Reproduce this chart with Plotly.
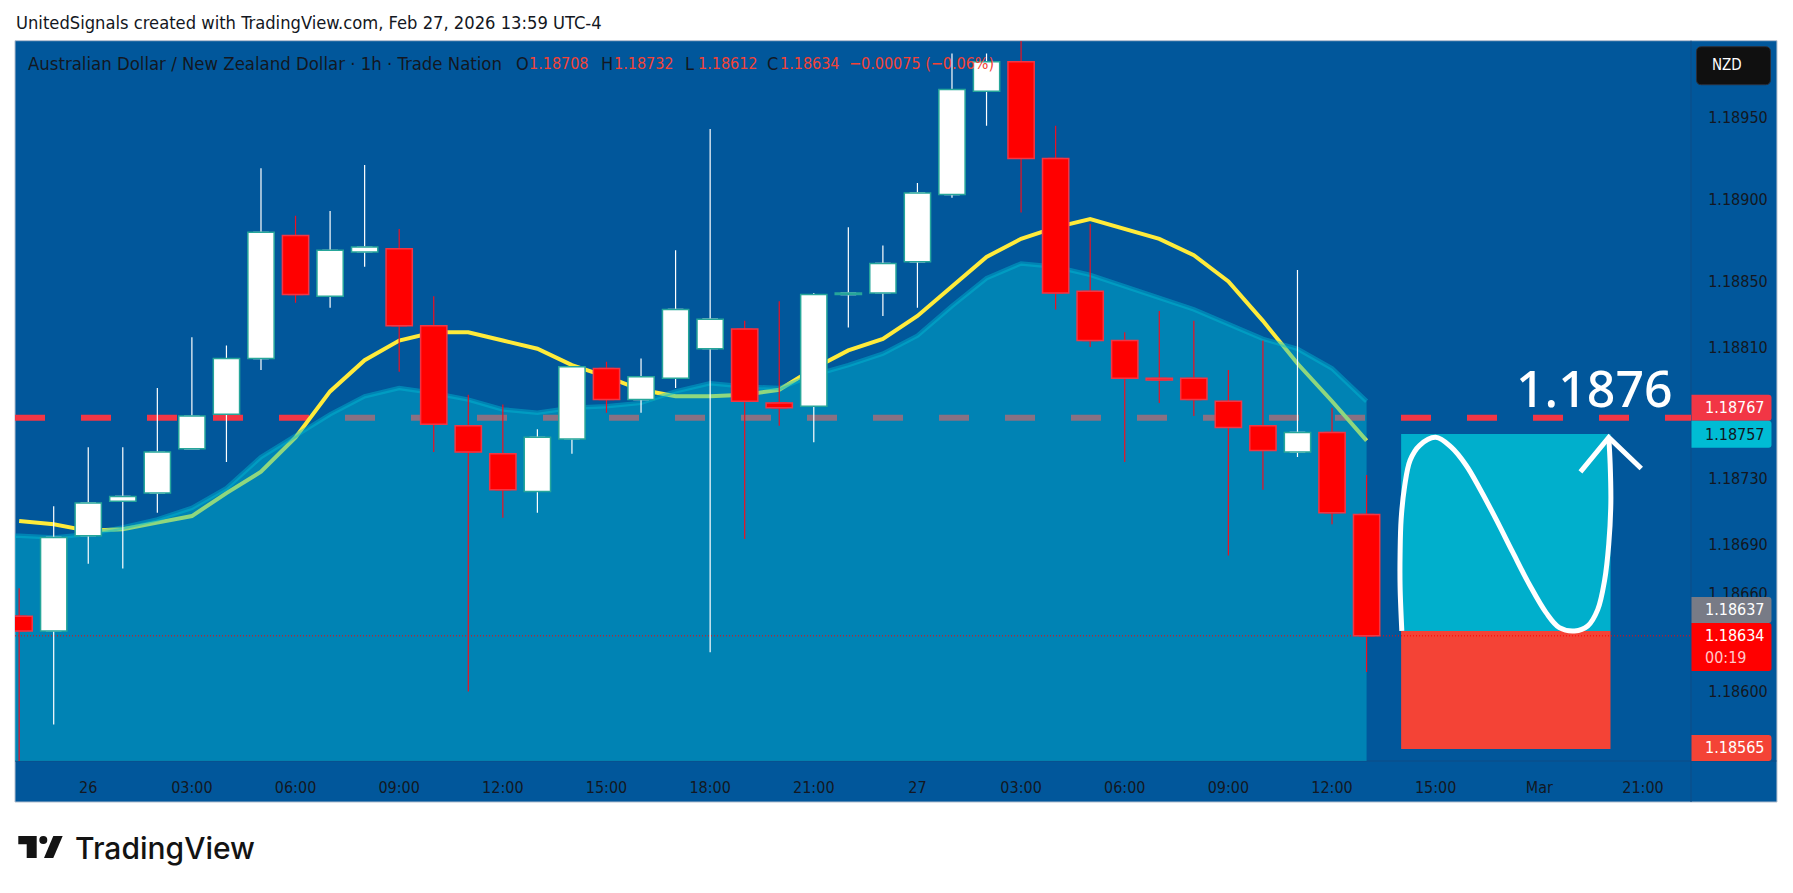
import plotly.graph_objects as go

W = 1793
H = 893
ML = 15
MR = 101.5
MT = 41.3
MB = 132

BG = "#01579B"
TEXT = "#131722"
FONT = "DejaVu Sans Condensed, Noto Sans"

bars = list(range(40))
opens = [1.18646, 1.18637, 1.18695, 1.18716, 1.18721, 1.18748, 1.18769, 1.18803, 1.18878, 1.18841,
         1.18868, 1.18870, 1.18823, 1.18762, 1.18745, 1.18722, 1.18754, 1.18797, 1.18778, 1.18791,
         1.18809, 1.18821, 1.18776, 1.18774, 1.18842, 1.18843, 1.18862, 1.18903, 1.18966, 1.18984,
         1.18925, 1.18844, 1.18814, 1.18791, 1.18791, 1.18777, 1.18762, 1.18746, 1.18758, 1.18708]
highs = [1.18663, 1.18713, 1.18749, 1.18749, 1.18785, 1.18816, 1.18811, 1.18919, 1.18890, 1.18893,
         1.18921, 1.18882, 1.18841, 1.18781, 1.18775, 1.18760, 1.18798, 1.18801, 1.18803, 1.18869,
         1.18943, 1.18826, 1.18838, 1.18843, 1.18883, 1.18872, 1.18910, 1.18989, 1.18989, 1.18997,
         1.18945, 1.18885, 1.18819, 1.18832, 1.18826, 1.18796, 1.18814, 1.18857, 1.18773, 1.18732]
lows = [1.18555, 1.18580, 1.18678, 1.18675, 1.18709, 1.18748, 1.18740, 1.18796, 1.18837, 1.18834,
        1.18859, 1.18795, 1.18746, 1.18600, 1.18706, 1.18709, 1.18745, 1.18770, 1.18770, 1.18785,
        1.18624, 1.18693, 1.18762, 1.18752, 1.18822, 1.18829, 1.18834, 1.18901, 1.18945, 1.18892,
        1.18833, 1.18810, 1.18740, 1.18776, 1.18768, 1.18683, 1.18723, 1.18743, 1.18702, 1.18612]
closes = [1.18637, 1.18694, 1.18715, 1.18719, 1.18746, 1.18768, 1.18803, 1.18880, 1.18842, 1.18869,
          1.18871, 1.18823, 1.18763, 1.18746, 1.18723, 1.18755, 1.18798, 1.18778, 1.18792, 1.18833,
          1.18827, 1.18777, 1.18773, 1.18842, 1.18843, 1.18861, 1.18904, 1.18967, 1.18984, 1.18925,
          1.18843, 1.18814, 1.18791, 1.18790, 1.18778, 1.18761, 1.18747, 1.18758, 1.18709, 1.18634]

ema = [1.18704, 1.18702, 1.18698, 1.18699, 1.18703, 1.18707, 1.18721, 1.18734, 1.18755, 1.18783,
       1.18802, 1.18814, 1.18819, 1.18819, 1.18814, 1.18809, 1.18799, 1.18792, 1.18784, 1.18780,
       1.18780, 1.18781, 1.18784, 1.18797, 1.18808, 1.18815, 1.18829, 1.18847, 1.18865, 1.18876,
       1.18883, 1.18888, 1.18882, 1.18876, 1.18866, 1.18850, 1.18826, 1.18800, 1.18777, 1.18753]
sma = [1.18695, 1.18694, 1.18696, 1.18700, 1.18705, 1.18712, 1.18724, 1.18743, 1.18756, 1.18769,
       1.18780, 1.18785, 1.18782, 1.18778, 1.18772, 1.18770, 1.18773, 1.18774, 1.18776, 1.18783,
       1.18788, 1.18786, 1.18785, 1.18793, 1.18799, 1.18806, 1.18817, 1.18835, 1.18852, 1.18861,
       1.18859, 1.18854, 1.18847, 1.18840, 1.18833, 1.18824, 1.18815, 1.18809, 1.18797, 1.18777]

x_range = [-0.12, 48.39]
y_range = [1.185577, 1.189966]
time_ticks = [2, 5, 8, 11, 14, 17, 20, 23, 26, 29, 32, 35, 38, 41, 44, 47]
time_labels = ["26", "03:00", "06:00", "09:00", "12:00", "15:00", "18:00", "21:00",
               "27", "03:00", "06:00", "09:00", "12:00", "15:00", "Mar", "21:00"]
price_ticks = [1.18950, 1.18900, 1.18850, 1.18810, 1.18730, 1.18690, 1.18660, 1.18600]

level = 1.18767
last_close = 1.18634
target = 1.18757
entry = 1.18637
stop = 1.18565
box_start = 40
box_end = 46.06

# hand drawn path on top of the position box
curve_x = [40.02, 39.97, 39.97, 40.00, 40.10, 40.26, 40.53, 41.00, 41.45, 41.88, 42.27, 42.75,
           43.23, 43.72, 44.20, 44.58, 45.02, 45.40, 45.69, 45.89, 46.01, 46.07, 46.05, 46.01]
curve_y = [1.18637, 1.18664, 1.18684, 1.18705, 1.18725, 1.18741, 1.18750, 1.18755, 1.18749, 1.18738,
           1.18724, 1.18705, 1.18685, 1.18665, 1.18648, 1.18639, 1.18637, 1.18640, 1.18650, 1.18668,
           1.18690, 1.18715, 1.18739, 1.18755]
arrow_x = [45.19, 46.01, 46.95]
arrow_y = [1.18734, 1.18755, 1.18736]


def px(x):
    return (x - ML) / (W - ML - MR)


def py(y):
    return 1 - (y - MT) / (H - MT - MB)


def text(fig, x, y, s, color=TEXT, size=16, anchor="left", family=FONT, weight=None):
    fig.add_annotation(x=px(x), y=py(y), xref="paper", yref="paper", text=s, showarrow=False,
                       xanchor=anchor, yanchor="middle", borderpad=0,
                       font=dict(family=family, size=size, color=color, weight=weight))


def rect(fig, x0, y0, x1, y1, color, layer="above", line=None):
    fig.add_shape(type="rect", xref="paper", yref="paper", x0=px(x0), x1=px(x1), y0=py(y0), y1=py(y1),
                  fillcolor=color, layer=layer, line=dict(width=1 if line else 0, color=line))


def rounded(fig, x0, y0, x1, y1, color, r=3, left=False, line=None):
    # axis tags only round the outer corners, the currency button rounds all of them
    rl = r if left else 0
    path = (f"M {px(x0 + rl)} {py(y0)} L {px(x1 - r)} {py(y0)} Q {px(x1)} {py(y0)} {px(x1)} {py(y0 + r)} "
            f"L {px(x1)} {py(y1 - r)} Q {px(x1)} {py(y1)} {px(x1 - r)} {py(y1)} L {px(x0 + rl)} {py(y1)} "
            f"Q {px(x0)} {py(y1)} {px(x0)} {py(y1 - rl)} L {px(x0)} {py(y0 + rl)} Q {px(x0)} {py(y0)} {px(x0 + rl)} {py(y0)} Z")
    fig.add_shape(type="path", xref="paper", yref="paper", path=path, fillcolor=color, layer="above",
                  line=dict(width=1 if line else 0, color=line))


up = [i for i in bars if closes[i] >= opens[i]]
down = [i for i in bars if closes[i] < opens[i]]

fig = go.Figure()

# dashed level and the ema sit under the translucent area
fig.add_trace(go.Scatter(x=x_range, y=[level, level], mode="lines",
                         line=dict(color="#F23645", width=6, dash="30px,36px")))
fig.add_trace(go.Scatter(x=bars, y=ema, mode="lines", line=dict(color="#FFEB3B", width=4)))
fig.add_trace(go.Scatter(x=[-1] + bars, y=[sma[0]] + sma, mode="lines", fill="tozeroy",
                         fillcolor="rgba(0,188,212,0.44)",
                         line=dict(color="rgba(0,188,212,0.44)", width=4.5)))
fig.add_trace(go.Scatter(x=x_range, y=[last_close, last_close], mode="lines",
                         line=dict(color="#FF0000", width=1, dash="1px,2px")))

# overlay axes, plotly would otherwise put candles under every scatter
fig.add_trace(go.Candlestick(x=bars, open=opens, high=highs, low=lows, close=closes, whiskerwidth=0,
                             xaxis="x2", yaxis="y2",
                             increasing=dict(fillcolor="#FFFFFF", line=dict(color="#FFFFFF", width=1.2)),
                             decreasing=dict(fillcolor="#FF0000", line=dict(color="#F01020", width=1.2))))
fig.add_trace(go.Bar(x=up, y=[closes[i] - opens[i] for i in up], base=[opens[i] for i in up], width=0.76,
                     xaxis="x3", yaxis="y3",
                     marker=dict(color="#FFFFFF", line=dict(color="#26A69A", width=1.5))))
fig.add_trace(go.Bar(x=down, y=[closes[i] - opens[i] for i in down], base=[opens[i] for i in down], width=0.76,
                     xaxis="x3", yaxis="y3",
                     marker=dict(color="#FF0000", line=dict(color="#F23645", width=1.5))))

fig.add_trace(go.Scatter(x=curve_x, y=curve_y, mode="lines", xaxis="x3", yaxis="y3",
                         line=dict(color="#FFFFFF", width=5, shape="spline")))
fig.add_trace(go.Scatter(x=arrow_x, y=arrow_y, mode="lines", xaxis="x3", yaxis="y3",
                         line=dict(color="#FFFFFF", width=5)))

fig.add_shape(type="rect", x0=box_start, x1=box_end, y0=entry, y1=target, fillcolor="#00AFCC",
              line=dict(width=0), layer="below")
fig.add_shape(type="rect", x0=box_start, x1=box_end, y0=stop, y1=entry, fillcolor="#F44336",
              line=dict(width=0), layer="below")

# chart panel and axis divider
rect(fig, 15, 41, 1777.5, 802, BG, layer="below", line="#B4BFCF")
fig.add_shape(type="line", xref="paper", yref="paper", x0=px(1691.5), x1=px(1691.5), y0=py(41), y1=py(802),
              line=dict(color="#0F4C85", width=1), layer="below")
fig.add_shape(type="line", xref="paper", yref="paper", x0=px(15), x1=px(1777), y0=py(761), y1=py(761),
              line=dict(color="#0F4C85", width=1), layer="below")

# price labels on the axis
rounded(fig, 1692, 395, 1772, 421, "#F23645")
rounded(fig, 1692, 421, 1772, 448, "#00BCD4")
rounded(fig, 1692, 597, 1772, 623, "#787B86")
rounded(fig, 1692, 623, 1772, 671, "#FF0000")
rounded(fig, 1692, 735, 1772, 761, "#F44336")
text(fig, 1705, 408, "1.18767", "#FFFFFF")
text(fig, 1705, 434.5, "1.18757", TEXT)
text(fig, 1705, 610, "1.18637", "#FFFFFF")
text(fig, 1705, 636, "1.18634", "#FFFFFF")
text(fig, 1705, 658, "00:19", "#FFC9C9")
text(fig, 1705, 748, "1.18565", "#FFFFFF")

# currency button
rounded(fig, 1697, 47, 1771, 85, "#101010", r=5, left=True, line="#2A2E39")
text(fig, 1728, 65.5, "NZD", "#FFFFFF", size=15, anchor="center")

text(fig, 15, 23, "UnitedSignals created with TradingView.com, Feb 27, 2026 13:59 UTC-4", size=18.2)
text(fig, 27.5, 64, "Australian Dollar / New Zealand Dollar · 1h · Trade Nation", size=18.4)
for x, label, value in [(515, "O", "1.18708"), (600, "H", "1.18732"), (684, "L", "1.18612"), (766, "C", "1.18634")]:
    text(fig, x, 64, label, size=18)
    text(fig, x + 13, 64, value, "#F44336")
text(fig, 848, 64, "−0.00075 (−0.06%)", "#F44336")

text(fig, 1595, 388, "1.1876", "#FFFFFF", size=50, anchor="center", family="Noto Sans", weight=500)

# logo
fig.add_shape(type="path", xref="paper", yref="paper", fillcolor="#131313", line=dict(width=0), layer="above",
              path=f"M {px(18.3)} {py(836)} L {px(36.7)} {py(836)} L {px(36.7)} {py(858)} L {px(26.7)} {py(858)} "
                   f"L {px(26.7)} {py(844.3)} L {px(18.3)} {py(844.3)} Z")
fig.add_shape(type="circle", xref="paper", yref="paper", x0=px(39.3), x1=px(47.3), y0=py(836), y1=py(844),
              fillcolor="#131313", line=dict(width=0), layer="above")
fig.add_shape(type="path", xref="paper", yref="paper", fillcolor="#131313", line=dict(width=0), layer="above",
              path=f"M {px(53.3)} {py(836)} L {px(62.7)} {py(836)} L {px(53.3)} {py(858)} L {px(44)} {py(858)} Z")
text(fig, 74, 848, "TradingView", "#131313", size=30, family="Inter", weight=500)

hidden = dict(range=x_range, visible=False, fixedrange=True)
hidden_y = dict(range=y_range, visible=False, fixedrange=True)

fig.update_layout(
    width=W,
    height=H,
    autosize=False,
    margin=dict(l=ML, r=MR, t=MT, b=MB, pad=0),
    paper_bgcolor="#FFFFFF",
    plot_bgcolor=BG,
    showlegend=False,
    barmode="overlay",
    boxgap=0.4,
    font=dict(family=FONT, size=16, color=TEXT),
    xaxis=dict(range=x_range, tickmode="array", tickvals=time_ticks, ticktext=time_labels, showgrid=False,
               zeroline=False, ticks="outside", ticklen=12, tickcolor="rgba(0,0,0,0)", tickangle=0),
    yaxis=dict(range=y_range, side="right", tickmode="array", tickvals=price_ticks,
               ticktext=[f"{p:.5f}" for p in price_ticks], showgrid=False, zeroline=False, ticks="outside",
               ticklen=13, tickcolor="rgba(0,0,0,0)"),
    xaxis2=dict(overlaying="x", anchor="y2", rangeslider=dict(visible=False), **hidden),
    yaxis2=dict(overlaying="y", anchor="x2", **hidden_y),
    xaxis3=dict(overlaying="x", anchor="y3", **hidden),
    yaxis3=dict(overlaying="y", anchor="x3", **hidden_y),
)

fig.write_html("out.html", config=dict(displayModeBar=False),
               post_script="document.body.style.margin='0';document.body.style.overflow='hidden';")
